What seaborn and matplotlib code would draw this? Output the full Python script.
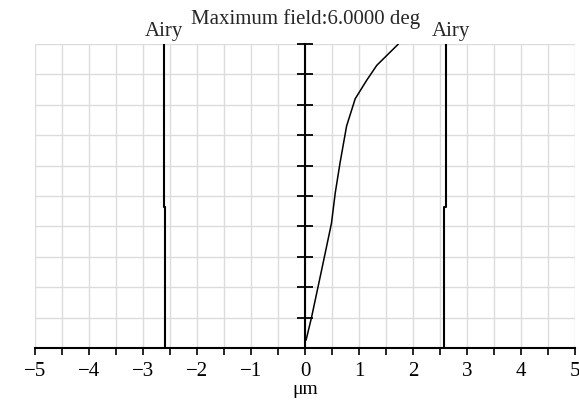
import numpy as np
import pandas as pd
import matplotlib
matplotlib.use("Agg")
import matplotlib.pyplot as plt
import seaborn as sns

# Data
curve_x = [0.02, 0.12, 0.30, 0.49, 0.56, 0.65, 0.77, 0.93, 1.14, 1.33, 1.73]
curve_y = [0.026, 0.10, 0.25, 0.41, 0.51, 0.61, 0.73, 0.82, 0.88, 0.93, 1.0]
airy_field = [0.0, 0.465, 0.465, 1.0]
airy_left = [-2.59, -2.59, -2.62, -2.62]
airy_right = [2.57, 2.57, 2.61, 2.61]
x_ticks = [-5, -4, -3, -2, -1, 0, 1, 2, 3, 4, 5]
x_tick_labels = ["\u22125", "\u22124", "\u22123", "\u22122", "\u22121", "0", "1", "2", "3", "4", "5"]
title = "Maximum field:6.0000 deg"

sns.set_theme(style="white")
plt.rcParams['font.family'] = ['Liberation Serif', 'DejaVu Serif']

fig = plt.figure(figsize=(5.79, 4.0), dpi=100)
ax = fig.add_axes([35/579, 1-348/400, 540/579, 304/400])

ax.set_xlim(-5, 5)
ax.set_ylim(0, 1)

grid_c = "#dcdcdc"
ax.set_xticks(np.arange(-5, 5.01, 0.5))
ax.set_yticks(np.arange(0, 1.001, 0.1))
ax.grid(True, color=grid_c, linewidth=1.0)
ax.set_axisbelow(True)

df_c = pd.DataFrame({"x": curve_x, "y": curve_y})
sns.lineplot(data=df_c, x="x", y="y", sort=False, estimator=None, color="black",
             linewidth=1.1, ax=ax)
df_l = pd.DataFrame({"x": airy_left, "y": airy_field})
sns.lineplot(data=df_l, x="x", y="y", sort=False, estimator=None, color="black",
             linewidth=1.5, ax=ax)
df_r = pd.DataFrame({"x": airy_right, "y": airy_field})
sns.lineplot(data=df_r, x="x", y="y", sort=False, estimator=None, color="black",
             linewidth=1.5, ax=ax)

for s in ["top", "right"]:
    ax.spines[s].set_visible(False)
ax.spines["left"].set_position(("data", 0))
ax.spines["left"].set_color("black")
ax.spines["left"].set_linewidth(1.5)
ax.spines["bottom"].set_color("black")
ax.spines["bottom"].set_linewidth(1.5)

ax.tick_params(axis="y", direction="inout", length=11, width=1.3, color="black",
               labelleft=False, left=True)
labels = []
for t in np.arange(-5, 5.01, 0.5):
    labels.append(x_tick_labels[x_ticks.index(int(round(t)))] if abs(t - round(t)) < 1e-6 else "")
ax.set_xticklabels(labels)
ax.tick_params(axis="x", direction="out", length=5, width=1.2, color="black",
               bottom=True, labelsize=15, pad=5, labelcolor="black")
ax.set_ylabel("")
ax.set_xlabel("\u03bcm", fontsize=14, labelpad=0, color="black")

ax.text(airy_left[-1], 1.01, "Airy", ha="center", va="bottom", fontsize=15,
        transform=ax.transData, clip_on=False)
ax.text(airy_right[-1] + 0.1, 1.01, "Airy", ha="center", va="bottom", fontsize=15,
        transform=ax.transData, clip_on=False)
fig.text(306/579, 1-19/400, title, ha="center", va="center", fontsize=15)

fig.savefig("out.png", dpi=100, facecolor="white")
